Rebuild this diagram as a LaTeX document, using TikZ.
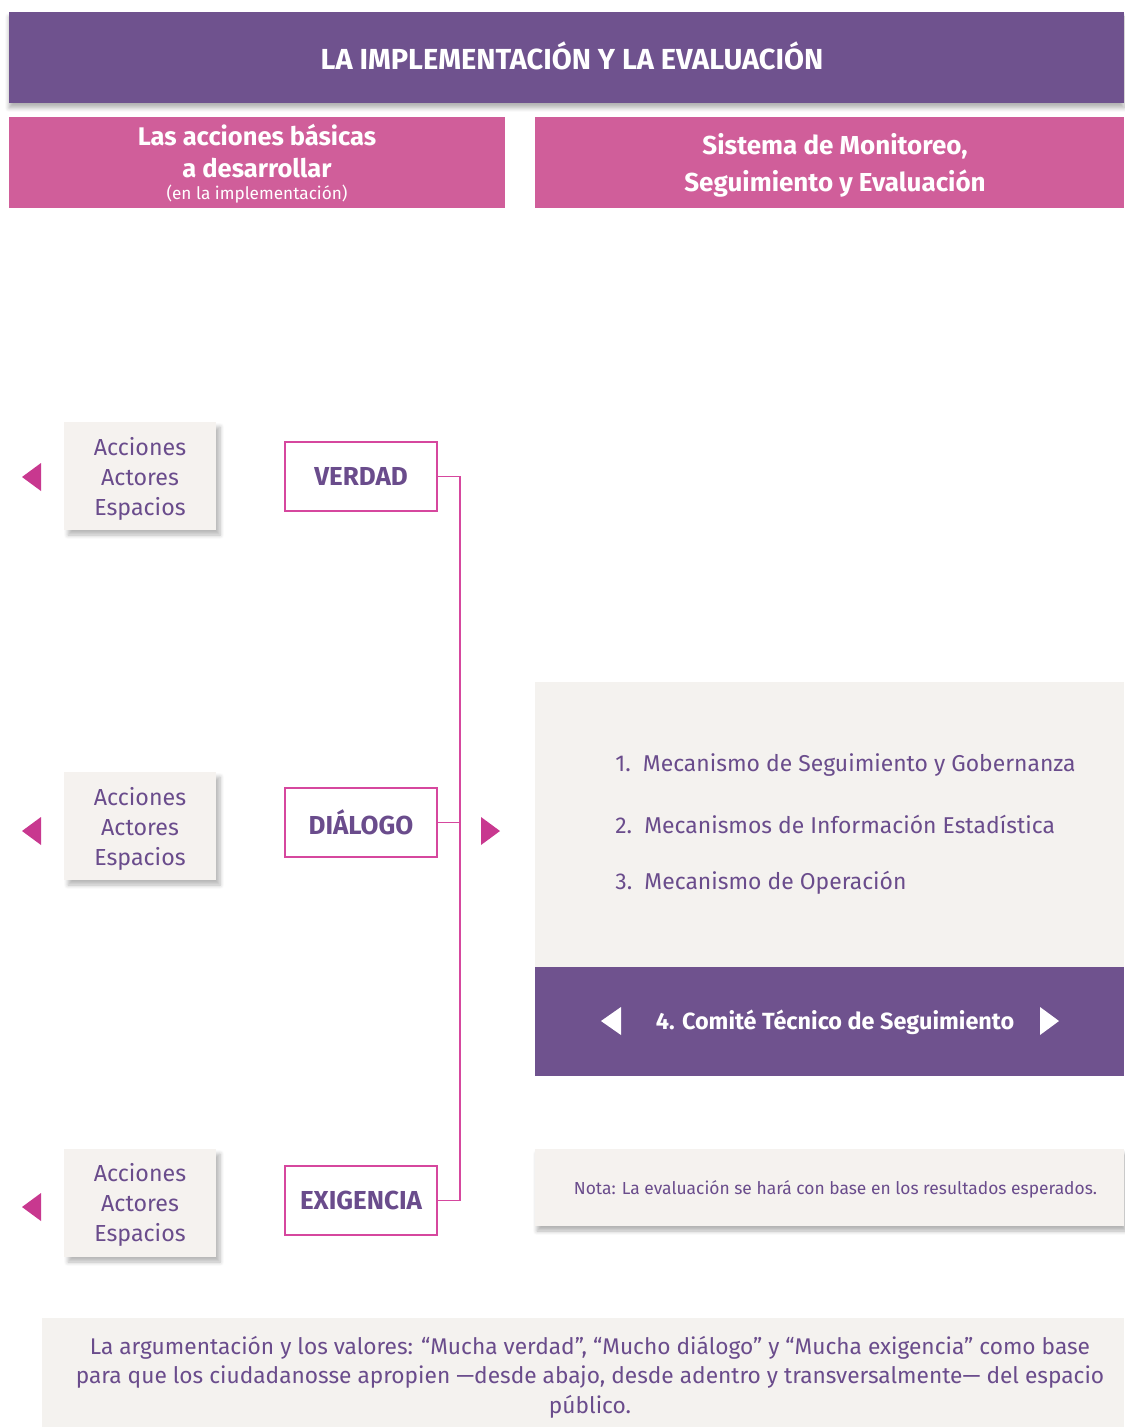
\documentclass[tikz,border=0pt]{standalone}
\usepackage{fontspec}
\setmainfont{Fira Sans}
\usetikzlibrary{shadows.blur,calc}
\definecolor{hdpurple}{HTML}{6F528E}
\definecolor{hdpink}{HTML}{D05E9A}
\definecolor{txpurple}{HTML}{6A4C8C}
\definecolor{arpink}{HTML}{C8388F}
\definecolor{lnpink}{HTML}{D6479E}
\definecolor{paper}{HTML}{F5F2EF}
\definecolor{paperb}{HTML}{F4F2EF}
\tikzset{
  band/.style={fill=#1, draw=none, inner sep=0pt, text=white, align=center},
  greybox/.style={fill=paper, draw=none, inner sep=0pt, minimum width=76pt, minimum height=54pt,
     blur shadow={shadow xshift=2pt, shadow yshift=-2.5pt, shadow blur steps=6, shadow opacity=28}},
  greytext/.style={text=txpurple, align=center, inner sep=0pt, font=\fontsize{11.6}{15}\selectfont},
  valuebox/.style={draw=lnpink, line width=0.6pt, fill=white, inner sep=0pt, minimum width=76pt,
     minimum height=34.5pt, text=txpurple, font=\bfseries\fontsize{13}{15}\selectfont},
  conn/.style={draw=lnpink, line width=0.7pt},
  listitem/.style={text=txpurple, anchor=west, font=\fontsize{11.45}{13}\selectfont, inner sep=0pt}
}
\begin{document}
\begin{tikzpicture}[x=0.5pt,y=-0.5pt]
\useasboundingbox (0,0) rectangle (1124,1427);
% header
\node[band=hdpurple, minimum width=557.5pt, minimum height=45.5pt,
  blur shadow={shadow xshift=0pt, shadow yshift=-2.5pt, shadow blur steps=6, shadow opacity=30}] (hdr) at (566.5,57.5) {};
\node[text=white, inner sep=0pt, font=\bfseries\fontsize{14.5}{17}\selectfont] (hdrtxt) at (572,56) {LA IMPLEMENTACIÓN Y LA EVALUACIÓN};
% pink bands
\node[band=hdpink, minimum width=248pt, minimum height=45.5pt] (lband) at (257,162.5) {};
\node[text=white, align=center, inner sep=0pt, font=\bfseries\fontsize{12.75}{16}\selectfont] (ltxt) at (257,151)
  {Las acciones básicas\\a desarrollar};
\node[text=white, inner sep=0pt, font=\fontsize{8.6}{10}\selectfont] (lsub) at (257,194) {(en la implementación)};
\node[band=hdpink, minimum width=294.5pt, minimum height=45.5pt] (rband) at (829.5,162.5) {};
\node[text=white, align=center, inner sep=0pt, font=\bfseries\fontsize{13}{18.5}\selectfont] (rtxt) at (835,165)
  {Sistema de Monitoreo,\\Seguimiento y Evaluación};
% grey boxes
\node[greybox] (g1) at (140,476) {};
\node[greybox] (g2) at (140,826) {};
\node[greybox] (g3) at (140,1203) {};
\node[greytext] (g1t) at (140,479) {Acciones\\Actores\\Espacios};
\node[greytext] (g2t) at (140,829) {Acciones\\Actores\\Espacios};
\node[greytext] (g3t) at (140,1205) {Acciones\\Actores\\Espacios};
% left arrows
\foreach \yy in {477,831,1207}{
  \fill[arpink] (22,\yy) -- (41,\yy-14) -- (41,\yy+14) -- cycle;
}
% value boxes
\node[valuebox] (verdad) at (361,476.5) {VERDAD};
\node[valuebox] (dialogo) at (361,822.5) {DIÁLOGO};
\node[valuebox] (exig) at (361,1200.5) {EXIGENCIA};
\coordinate (bus) at (460,0);
\draw[conn] (verdad.east) -- (verdad.east -| bus) -- (exig.east -| bus) -- (exig.east);
\draw[conn] (dialogo.east) -- (dialogo.east -| bus);
% right arrow
\fill[arpink] (500,831) -- (481,817) -- (481,845) -- cycle;
% textured panel
\node[fill=paperb, draw=none, inner sep=0pt, minimum width=294.5pt, minimum height=142.5pt] (panel) at (829.5,824.5) {};
\node[listitem] (m1) at (615,765) {1.\ \ Mecanismo de Seguimiento y Gobernanza};
\node[listitem] (m2) at (615,824) {2.\ \ Mecanismos de Información Estadística};
\node[listitem] (m3) at (615,883) {3.\ \ Mecanismo de Operación};
% purple box
\node[band=hdpurple, minimum width=294.5pt, minimum height=54.5pt] (comite) at (829.5,1021.5) {};
\node[text=white, inner sep=0pt, font=\bfseries\fontsize{11.7}{14}\selectfont] (ctxt) at (835,1022) {4. Comité Técnico de Seguimiento};
\fill[white] (601,1021) -- (621,1007) -- (621,1035) -- cycle;
\fill[white] (1059,1021) -- (1040,1007) -- (1040,1035) -- cycle;
% nota
\node[fill=paper, draw=none, inner sep=0pt, minimum width=294.5pt, minimum height=38.5pt,
  blur shadow={shadow xshift=1pt, shadow yshift=-2.5pt, shadow blur steps=6, shadow opacity=30}] (nota) at (829.5,1187.5) {};
\node[text=txpurple, inner sep=0pt, font=\fontsize{8.7}{10}\selectfont] (notat) at (835.5,1189)
  {Nota: La evaluación se hará con base en los resultados esperados.};
% bottom panel
\node[fill=paperb, draw=none, inner sep=0pt, minimum width=541pt, minimum height=54.5pt] (bottom) at (583,1372.5) {};
\node[text=txpurple, align=center, inner sep=0pt, font=\fontsize{11.35}{14.8}\selectfont] (btxt) at (590,1377)
  {La argumentación y los valores: “Mucha verdad”, “Mucho diálogo” y “Mucha exigencia” como base\\
   para que los ciudadanosse apropien —desde abajo, desde adentro y transversalmente— del espacio\\
   público.};
\end{tikzpicture}
\end{document}
